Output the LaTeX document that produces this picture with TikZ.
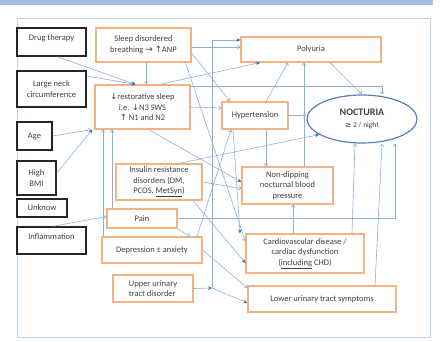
\documentclass[tikz,border=0pt]{standalone}
\usepackage{fontspec}
\setmainfont{Carlito}
\newfontfamily\symf{DejaVu Sans}
\usetikzlibrary{positioning,shapes.geometric,arrows.meta}
\definecolor{boxorange}{HTML}{F4B183}
\definecolor{linkblue}{HTML}{8DB0DC}
\definecolor{headblue}{HTML}{2E6DB4}
\definecolor{frameblue}{HTML}{BDD7EE}
\definecolor{barblue}{HTML}{A6BDE4}
\definecolor{ovalblue}{HTML}{5A7DBE}
\definecolor{txtgray}{HTML}{404040}

\begin{document}
\begin{tikzpicture}[x=1pt, y=-1pt, font=\fontsize{8.5}{10.5}\selectfont, text=txtgray]
    % Define styles
    \tikzstyle{factor}=[rectangle, draw=black!85, line width=1.5pt, align=center, inner sep=1pt]
    \tikzstyle{cause}=[rectangle, draw=boxorange, line width=1.2pt, align=center, inner sep=1pt]
    \tikzstyle{arrow}=[-{Straight Barb[length=2.5pt,width=4pt]}, draw=linkblue, line width=0.6pt]
    \tikzstyle{darrow}=[-{Stealth[length=4pt,width=3.5pt,color=headblue]}, draw=linkblue, line width=0.6pt]

    \useasboundingbox (0,0) rectangle (443,341);
    \fill[barblue] (0,0) rectangle (433,5);
    \draw[frameblue, line width=0.8pt] (17,18) rectangle (430,337);

    % Risk factors
    \node[factor, minimum width=69pt, minimum height=28pt] (drug) at (51.5,42) {Drug therapy\\[-1pt]\mbox{}};
    \node[factor, minimum width=69pt, minimum height=36pt] (neck) at (51.5,89) {Large neck\\circumference};
    \node[factor, minimum width=35pt, minimum height=28pt] (age) at (34.5,136) {Age};
    \node[factor, minimum width=39pt, minimum height=34pt] (bmi) at (36.5,178) {High\\BMI};
    \node[factor, minimum width=50pt, minimum height=18pt] (unknow) at (42,208) {Unknow};
    \node[factor, minimum width=69pt, minimum height=27pt] (inflam) at (51.5,240.5) {Inflammation\\[-3pt]\mbox{}};

    % Causes
    \node[cause, minimum width=95pt, minimum height=34pt] (sdb) at (143.5,45) {Sleep disordered\\breathing {\symf\small →} {\symf ↑}ANP};
    \node[cause, minimum width=95pt, minimum height=44pt] (rest) at (142.5,107) {{\symf ↓}restorative sleep\\i.e. {\symf ↓}N3 SWS\\{\symf ↑} N1 and N2};
    \node[cause, minimum width=86pt, minimum height=36pt] (insulin) at (159,182) {Insulin resistance\\disorders (DM,\\PCOS, \underline{MetSyn})};
    \node[cause, minimum width=70pt, minimum height=19pt] (pain) at (142,218.5) {Pain};
    \node[cause, minimum width=100pt, minimum height=26pt] (depress) at (152,250) {Depression ± anxiety};
    \node[cause, minimum width=80pt, minimum height=27pt, align=left] (upper) at (153,288.5) {Upper urinary\\tract disorder};
    \node[cause, minimum width=140pt, minimum height=25pt] (poly) at (311,49.5) {Polyuria};
    \node[cause, minimum width=66pt, minimum height=27pt] (hyper) at (255,115.5) {Hypertension};
    \node[cause, minimum width=91pt, minimum height=37pt] (nondip) at (287.5,185.5) {Non-dipping\\nocturnal blood\\pressure};
    \node[cause, minimum width=118pt, minimum height=39pt] (cardio) at (305,253.5) {Cardiovascular disease /\\cardiac dysfunction\\(\underline{including} CHD)};
    \node[cause, minimum width=148pt, minimum height=26pt] (lower) at (322,299) {Lower urinary tract symptoms};

    % Outcome
    \node[ellipse, draw=ovalblue, line width=1.2pt, minimum width=110pt, minimum height=48pt, inner sep=0pt, align=center] (noct) at (362,119)
        {{\fontsize{10}{12}\selectfont\bfseries NOCTURIA}\\[2pt]{\fontsize{7.5}{9}\selectfont{\symf ≥} 2 / night}};
    \coordinate (upjoin) at (212,288);

    % Connections
    \draw[darrow] ([xshift=6pt]drug.south) -- ([xshift=-7pt]rest.north);
    \draw[darrow] ([yshift=13pt]neck.east) -- ([xshift=-7pt]rest.north);
    \draw[arrow] (age.east) -- ([xshift=-3pt]rest.south west);
    \draw[darrow] ([yshift=5pt]bmi.east) -- ([xshift=-2pt]rest.south west);
    \draw[arrow] ([xshift=2pt]inflam.north) -- ([yshift=2pt]pain.west);
    \draw[arrow] ([xshift=2.5pt]sdb.south) -- ([xshift=3.5pt]rest.north);
    \draw[arrow] ([yshift=-2pt]sdb.east) -- ([yshift=2.5pt]poly.west);
    \draw[arrow] ([yshift=-8pt]sdb.east) -- ([xshift=-25pt]hyper.north);
    \draw[arrow] ([xshift=42pt]sdb.south) -- ([yshift=12pt]cardio.west);
    \draw[darrow] ([xshift=17pt]rest.north) -- ([xshift=-51pt]poly.south);
    \draw[arrow] ([yshift=21pt]rest.east) -| ([xshift=20pt]noct.north);
    \draw[arrow] (rest.east) -- ([yshift=7.5pt]hyper.west);
    \draw[darrow] ([xshift=6pt]rest.south) -- ([yshift=3.5pt]nondip.west);
    \draw[arrow] ([xshift=11pt]hyper.north) -- ([xshift=-23pt]poly.south);
    \draw[arrow] (hyper.east) -- (hyper.east -| noct.west);
    \draw[arrow] ([xshift=11pt]hyper.south) -- ([xshift=-21.5pt]nondip.north);
    \draw[darrow] ([xshift=-22pt]hyper.south) -- ([xshift=-65pt]cardio.north);
    \draw[arrow] ([xshift=16.5pt]nondip.north) -- ([xshift=-7pt]poly.south);
    \draw[arrow] ([xshift=19pt]poly.south) -- (noct.north);
    \draw[darrow] ([xshift=20pt]insulin.north) -- (noct.200);
    \draw[arrow] (insulin.east) -- ([yshift=-3pt]nondip.west);
    \draw[darrow] ([xshift=34pt]insulin.south) -- ([yshift=-9.5pt]cardio.west);
    \draw[arrow] ([xshift=-30pt]pain.north) -- ([xshift=-30.5pt]rest.south);
    \draw[arrow] (pain.south east) -- ([xshift=38pt]depress.north);
    \draw[arrow] (pain.east) -| ([xshift=33pt]noct.south);
    \draw[arrow] ([xshift=-49pt]depress.north) -- ([xshift=-39.5pt]rest.south);
    \draw[arrow] ([xshift=45pt]depress.north) -- ([xshift=-24pt]hyper.south);
    \draw[arrow] (depress.east) -- ([yshift=11pt]lower.west);
    \draw[darrow] (upper.east) -- (upjoin);
    \draw[darrow] (upjoin) |- ([yshift=9.5pt]poly.west);
    \draw[darrow] (upjoin) -- ([yshift=-4pt]lower.west);
    \draw[arrow] ([xshift=-12pt]cardio.north) -- ([xshift=5.5pt]nondip.south);
    \draw[arrow] ([xshift=47pt]cardio.north) -- ([xshift=-7pt]noct.south);
    \draw[arrow] ([xshift=53pt]lower.north) -- ([xshift=20pt]noct.south);
\end{tikzpicture}
\end{document}
